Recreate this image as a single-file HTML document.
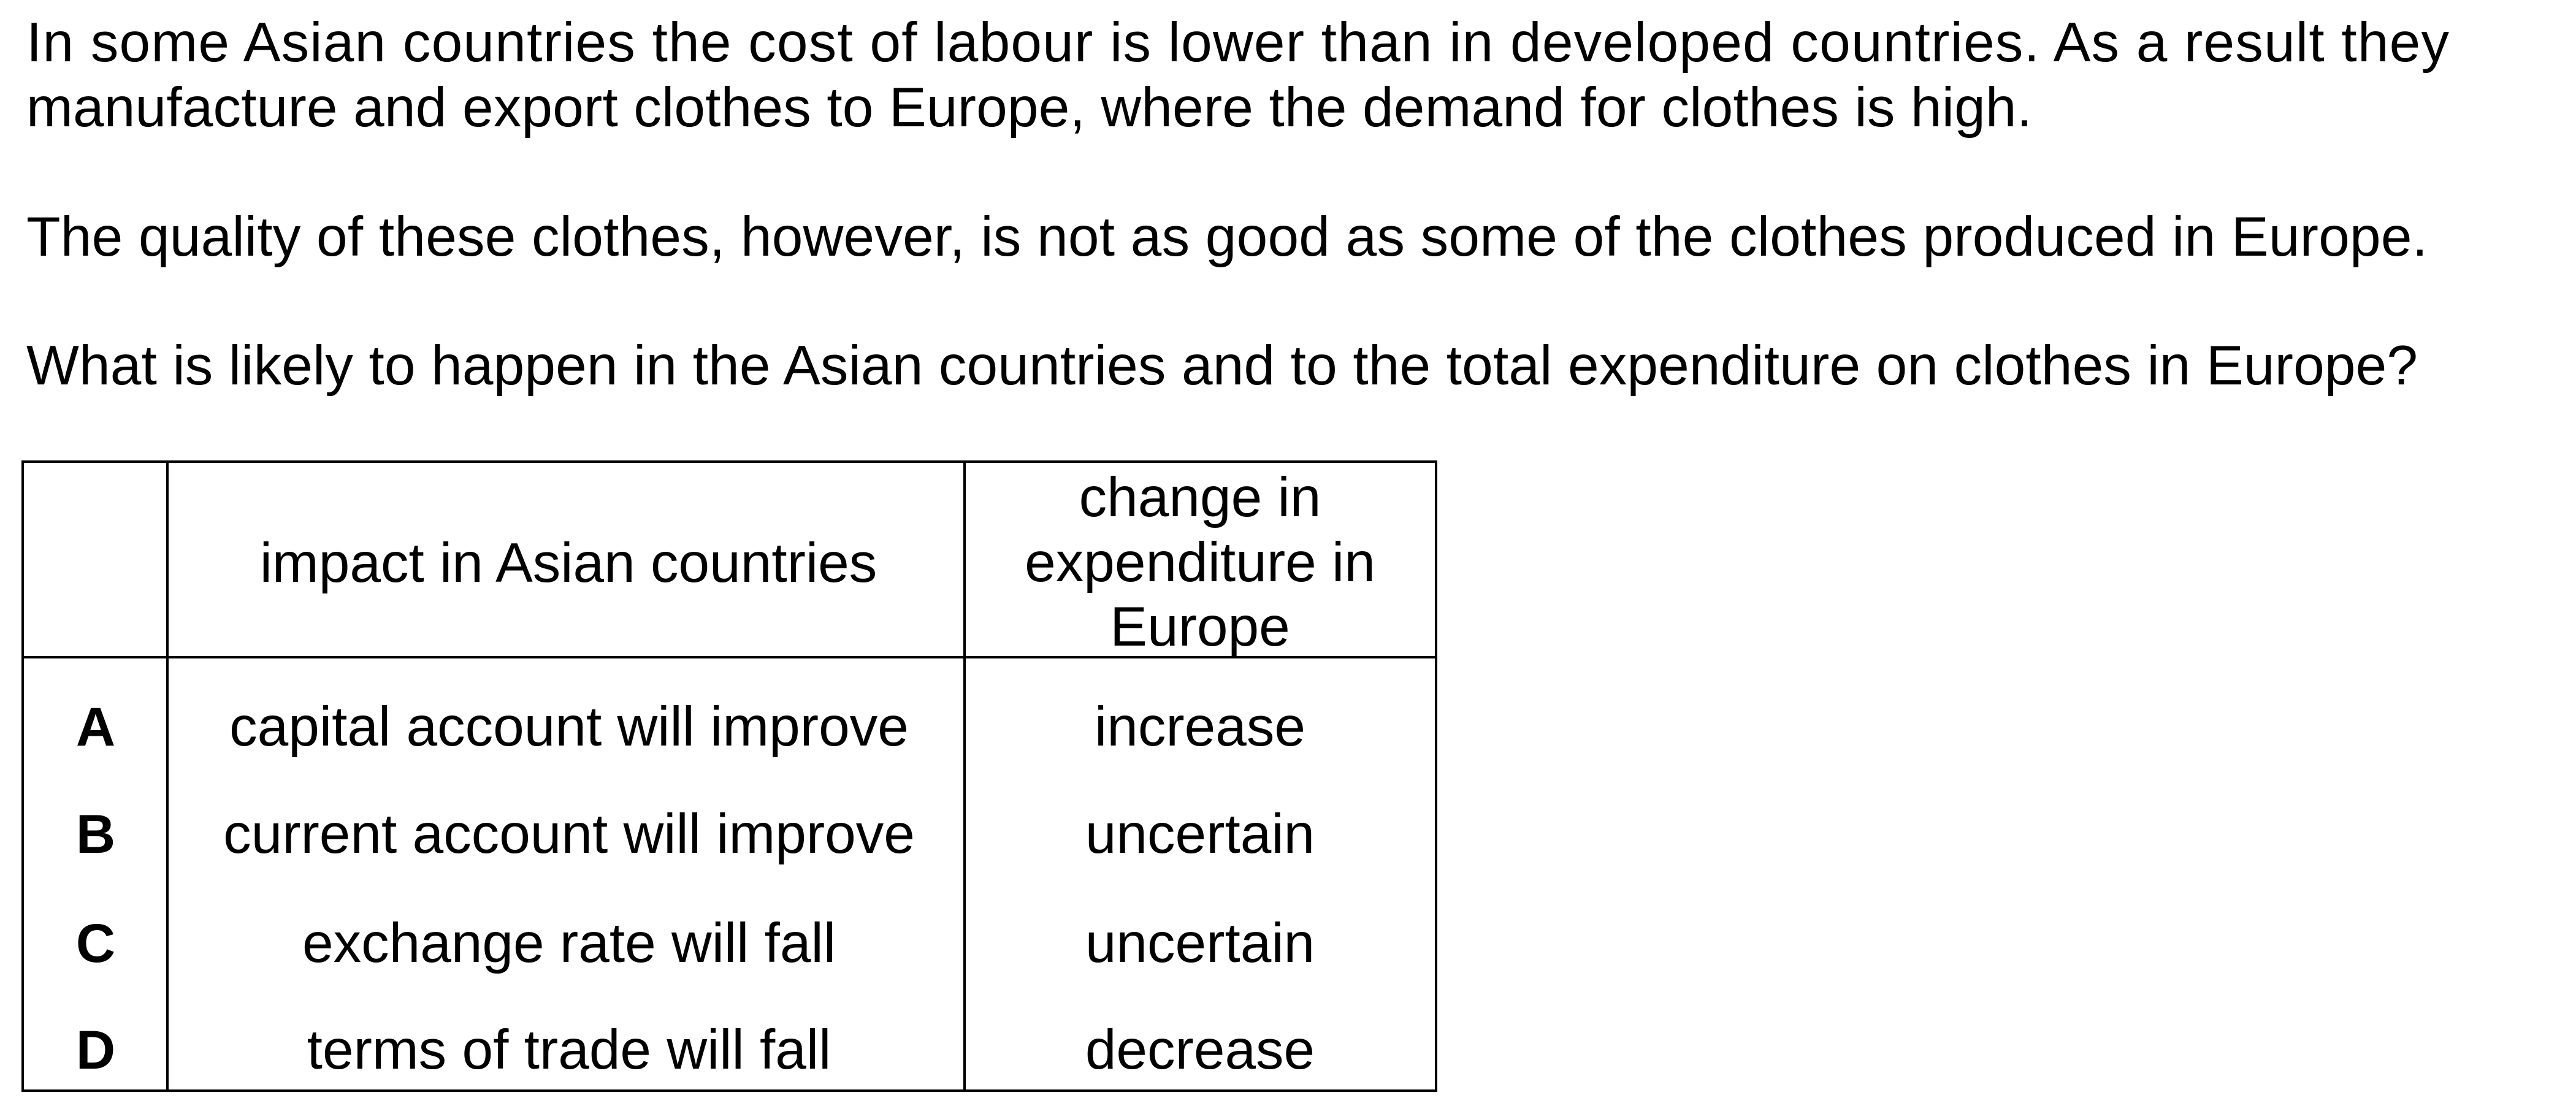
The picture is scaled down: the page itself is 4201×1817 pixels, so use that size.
<!DOCTYPE html>
<html><head><meta charset="utf-8"><style>
html,body{margin:0;padding:0;background:#fff;}
svg{display:block;font-family:"Liberation Sans",Arial,sans-serif;}
</style></head><body>
<svg width="4201" height="1817" viewBox="0 0 4201 1817">
<rect width="4201" height="1817" fill="#fff"/>
<g font-size="91" fill="#000">
<text x="43" y="100" textLength="3951" lengthAdjust="spacing">In some Asian countries the cost of labour is lower than in developed countries. As a result they</text>
<text x="43" y="206" textLength="3271" lengthAdjust="spacing">manufacture and export clothes to Europe, where the demand for clothes is high.</text>
<text x="43" y="417" textLength="3916" lengthAdjust="spacing">The quality of these clothes, however, is not as good as some of the clothes produced in Europe.</text>
<text x="43" y="627" textLength="3900" lengthAdjust="spacing">What is likely to happen in the Asian countries and to the total expenditure on clothes in Europe?</text>
</g>
<g stroke="#000" stroke-width="4" fill="none">
<rect x="37" y="753" width="2305" height="1026"/>
<line x1="273" y1="753" x2="273" y2="1779"/>
<line x1="1573" y1="753" x2="1573" y2="1779"/>
<line x1="37" y1="1072" x2="2342" y2="1072"/>
</g>
<g font-size="91" fill="#000" text-anchor="middle">
<text x="927" y="949">impact in Asian countries</text>
<text x="1957" y="842">change in</text>
<text x="1957" y="948">expenditure in</text>
<text x="1957" y="1053">Europe</text>

<g font-weight="bold" font-size="89">
<text x="156" y="1216">A</text>
<text x="156" y="1391">B</text>
<text x="156" y="1569">C</text>
<text x="156" y="1743">D</text>
</g>
<text x="928" y="1216">capital account will improve</text>
<text x="928" y="1391">current account will improve</text>
<text x="928" y="1569">exchange rate will fall</text>
<text x="928" y="1743">terms of trade will fall</text>
<text x="1957" y="1216">increase</text>
<text x="1957" y="1391">uncertain</text>
<text x="1957" y="1569">uncertain</text>
<text x="1957" y="1743">decrease</text>
</g>
</svg>
</body></html>
